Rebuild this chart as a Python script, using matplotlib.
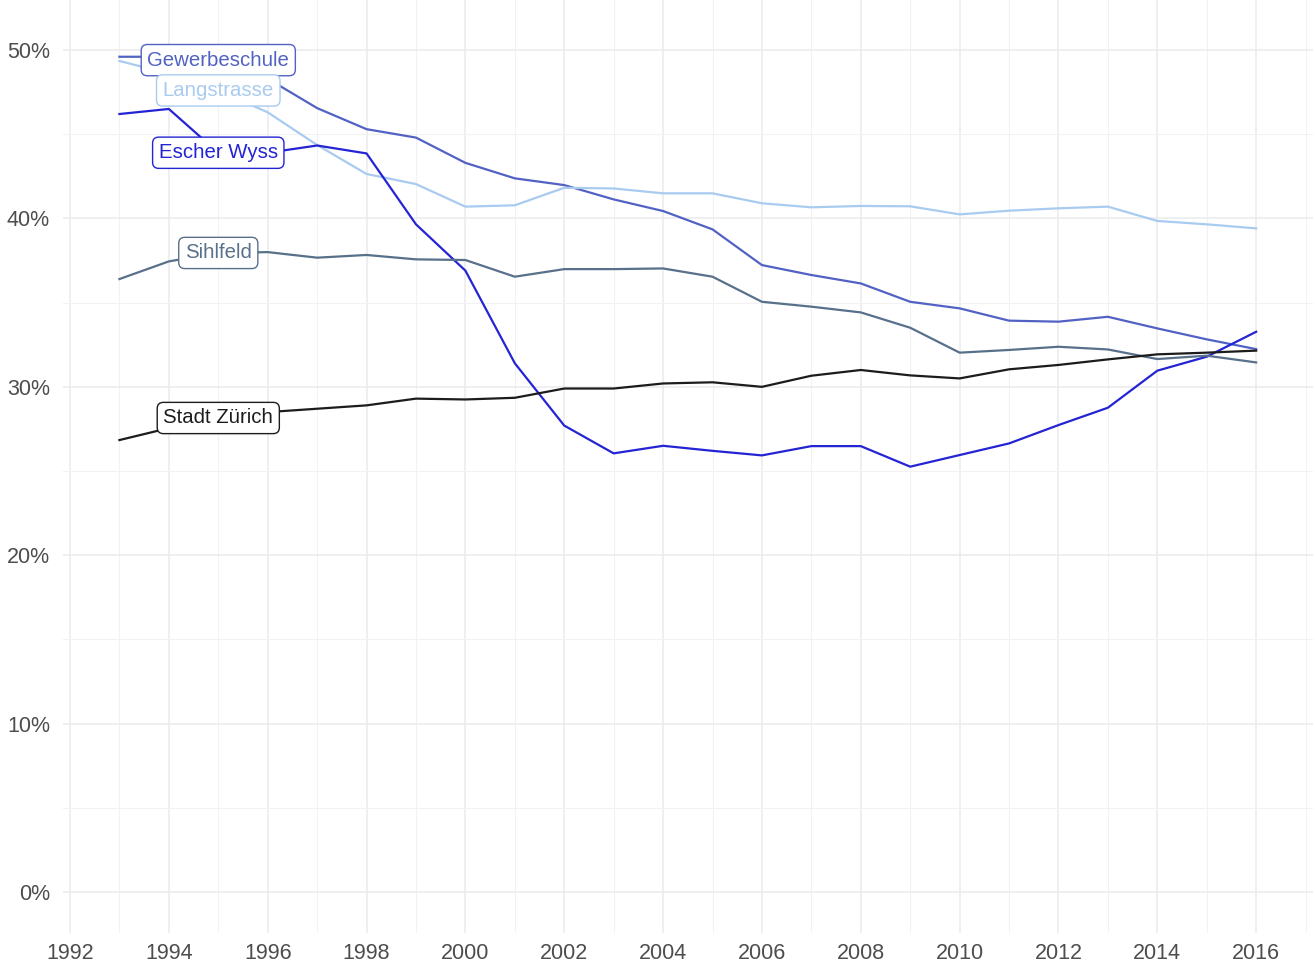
import matplotlib.pyplot as plt
from matplotlib.ticker import MultipleLocator, FuncFormatter

plt.rcParams['font.family'] = ['Liberation Sans', 'DejaVu Sans']

jahre = list(range(1993, 2017))

# Anteile in Prozent
gewerbeschule = [49.6, 49.6, 49.4, 48.3, 46.55, 45.3, 44.8, 43.3, 42.38, 41.98, 41.13, 40.44,
                 39.35, 37.23, 36.64, 36.14, 35.05, 34.66, 33.93, 33.87, 34.16, 33.47, 32.82, 32.24]
langstrasse = [49.35, 48.6, 47.6, 46.3, 44.36, 42.64, 42.04, 40.7, 40.78, 41.82, 41.78, 41.49,
               41.49, 40.9, 40.66, 40.74, 40.72, 40.24, 40.46, 40.6, 40.7, 39.85, 39.65, 39.41]
escher_wyss = [46.2, 46.5, 43.9, 43.9, 44.33, 43.86, 39.65, 36.9, 31.4, 27.7, 26.05, 26.5,
               26.2, 25.93, 26.48, 26.48, 25.26, 25.95, 26.64, 27.73, 28.76, 30.96, 31.79, 33.27]
sihlfeld = [36.4, 37.45, 37.95, 38.0, 37.67, 37.83, 37.57, 37.53, 36.54, 36.99, 36.99, 37.03,
            36.54, 35.05, 34.76, 34.42, 33.51, 32.03, 32.19, 32.38, 32.22, 31.65, 31.85, 31.45]
stadt_zuerich = [26.84, 27.55, 28.15, 28.5, 28.7, 28.9, 29.3, 29.25, 29.35, 29.9, 29.9, 30.2,
                 30.27, 30.0, 30.66, 31.0, 30.68, 30.5, 31.04, 31.3, 31.63, 31.93, 32.03, 32.15]

quartiere = ['Gewerbeschule', 'Langstrasse', 'Escher Wyss', 'Sihlfeld', 'Stadt Zürich']
werte = [gewerbeschule, langstrasse, escher_wyss, sihlfeld, stadt_zuerich]
farben = ['#5262c4', '#a9cbef', '#2424d4', '#58708a', '#1c1c1c']
label_jahr = 1995

fig = plt.figure(figsize=(13.15, 9.64), dpi=100)
ax = fig.add_axes([62.6 / 1315, 31 / 964, (1313 - 62.6) / 1315, 933 / 964])

for name, y, farbe in zip(quartiere, werte, farben):
    ax.plot(jahre, y, color=farbe, lw=1.6, zorder=3)

for name, y, farbe in zip(quartiere, werte, farben):
    i = jahre.index(label_jahr)
    ax.text(label_jahr, y[i], name, color=farbe, fontsize=14.7, ha='center', va='center', zorder=5,
            bbox=dict(boxstyle='round,pad=0.3,rounding_size=0.3', facecolor='white',
                      edgecolor=farbe, linewidth=1.0))

ax.set_xlim(1991.85, 2017.15)
ax.set_ylim(-2.43, 52.97)
ax.xaxis.set_major_locator(MultipleLocator(2))
ax.xaxis.set_minor_locator(MultipleLocator(1))
ax.yaxis.set_major_locator(MultipleLocator(10))
ax.yaxis.set_minor_locator(MultipleLocator(5))
ax.yaxis.set_major_formatter(FuncFormatter(lambda v, p: f'{v:.0f}%'))

ax.grid(which='major', color='#ebebeb', lw=1.1, zorder=0)
ax.grid(which='minor', color='#f2f2f2', lw=0.8, zorder=0)
ax.set_axisbelow(True)
for s in ax.spines.values():
    s.set_visible(False)
ax.tick_params(which='both', length=0, labelsize=15.5, labelcolor='#4d4d4d')
ax.tick_params(axis='y', pad=9)
ax.tick_params(axis='x', pad=7)

fig.savefig('out.png', dpi=100)
